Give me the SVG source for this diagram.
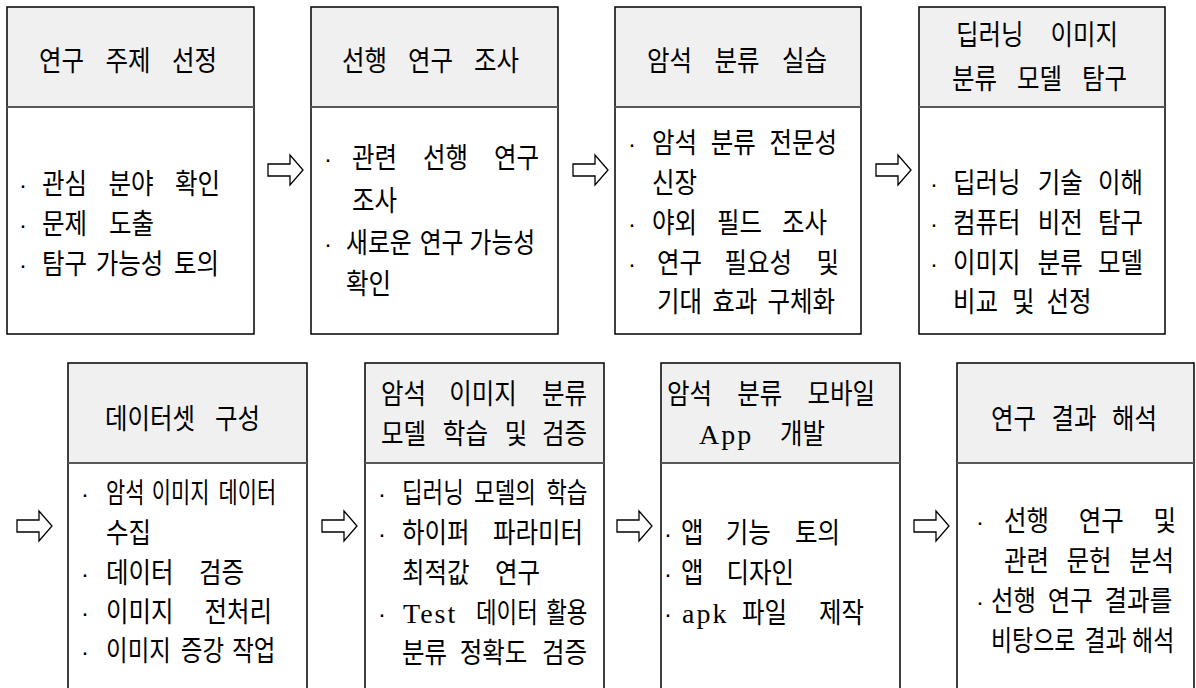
<svg xmlns="http://www.w3.org/2000/svg" width="1196" height="688" viewBox="0 0 1196 688">
<defs>
<style>
.bx{fill:none;stroke:#000;stroke-width:1.5}
.hd{fill:#f0f0f0;stroke:none}
.dv{stroke:#595959;stroke-width:2}
.t{font-family:"Noto Sans CJK KR","Noto Sans CJK SC",sans-serif;font-size:28px;fill:#000}
.l{font-family:"Liberation Serif",serif;font-size:28px;fill:#000;letter-spacing:2px}
.b{font-family:"Liberation Sans",sans-serif;font-size:24px;fill:#000;text-anchor:middle}
.ar{fill:#fff;stroke:#000;stroke-width:1.3;stroke-linejoin:miter}
</style>
<polygon id="arr" class="ar" points="0,-6 22,-6 22,-15 35,0 22,15 22,6 0,6"/>
</defs>
<rect width="1196" height="688" fill="#fff"/>

<g id="connectors">
<use href="#arr" transform="translate(268,170)"/>
<use href="#arr" transform="translate(573,170)"/>
<use href="#arr" transform="translate(876,170)"/>
<use href="#arr" transform="translate(17,526)"/>
<use href="#arr" transform="translate(322,526)"/>
<use href="#arr" transform="translate(617,526)"/>
<use href="#arr" transform="translate(914,526)"/>
</g>

<g id="n1">
<rect class="hd" x="7" y="7" width="247" height="100"/>
<rect class="bx" x="7" y="7" width="247" height="327"/>
<line class="dv" x1="7" y1="107" x2="254" y2="107"/>
<text class="t" transform="matrix(0.875,0,0,1,39,71)"><tspan x="0">연구</tspan><tspan x="76">주제</tspan><tspan x="152">선정</tspan></text>
<text class="b" x="23" y="193">·</text>
<text class="b" x="23" y="233">·</text>
<text class="b" x="23" y="273">·</text>
<text class="t" transform="matrix(0.875,0,0,1,42,194)"><tspan x="0">관심</tspan><tspan x="76">분야</tspan><tspan x="152">확인</tspan></text>
<text class="t" transform="matrix(0.875,0,0,1,42,234)"><tspan x="0">문제</tspan><tspan x="76.6">도출</tspan></text>
<text class="t" transform="matrix(0.875,0,0,1,42,274)"><tspan x="0">탐구</tspan><tspan x="61.4">가능성</tspan><tspan x="150.8">토의</tspan></text>
</g>

<g id="n2">
<rect class="hd" x="311" y="7" width="247" height="100"/>
<rect class="bx" x="311" y="7" width="247" height="327"/>
<line class="dv" x1="311" y1="107" x2="558" y2="107"/>
<text class="t" transform="matrix(0.875,0,0,1,342,71)"><tspan x="0">선행</tspan><tspan x="75.4">연구</tspan><tspan x="150.8">조사</tspan></text>
<text class="b" x="328" y="167">·</text>
<text class="b" x="328" y="252">·</text>
<text class="t" transform="matrix(0.875,0,0,1,352,168)"><tspan x="0">관련</tspan><tspan x="81.1">선행</tspan><tspan x="162.2">연구</tspan></text>
<text class="t" transform="matrix(0.875,0,0,1,352,211)">조사</text>
<text class="t" transform="matrix(0.85,0,0,1,346,253)"><tspan x="0">새로운</tspan><tspan x="86.7">연구</tspan><tspan x="145.4">가능성</tspan></text>
<text class="t" transform="matrix(0.875,0,0,1,346,294)">확인</text>
</g>

<g id="n3">
<rect class="hd" x="615" y="7" width="246" height="100"/>
<rect class="bx" x="615" y="7" width="246" height="327"/>
<line class="dv" x1="615" y1="107" x2="861" y2="107"/>
<text class="t" transform="matrix(0.875,0,0,1,647,71)"><tspan x="0">암석</tspan><tspan x="77.1">분류</tspan><tspan x="154.2">실습</tspan></text>
<text class="b" x="632" y="152">·</text>
<text class="b" x="632" y="232">·</text>
<text class="b" x="632" y="272">·</text>
<text class="t" transform="matrix(0.875,0,0,1,652,153)"><tspan x="0">암석</tspan><tspan x="67.1">분류</tspan><tspan x="134.2">전문성</tspan></text>
<text class="t" transform="matrix(0.875,0,0,1,652,193)">신장</text>
<text class="t" transform="matrix(0.875,0,0,1,652,233)"><tspan x="0">야외</tspan><tspan x="74.3">필드</tspan><tspan x="148.6">조사</tspan></text>
<text class="t" transform="matrix(0.875,0,0,1,657,273)"><tspan x="0">연구</tspan><tspan x="77.1">필요성</tspan><tspan x="182.2">및</tspan></text>
<text class="t" transform="matrix(0.875,0,0,1,657,312)"><tspan x="0">기대</tspan><tspan x="63.1">효과</tspan><tspan x="126.2">구체화</tspan></text>
</g>

<g id="n4">
<rect class="hd" x="919" y="7" width="246" height="100"/>
<rect class="bx" x="919" y="7" width="246" height="327"/>
<line class="dv" x1="919" y1="107" x2="1165" y2="107"/>
<text class="t" transform="matrix(0.875,0,0,1,956,45)"><tspan x="0">딥러닝</tspan><tspan x="108">이미지</tspan></text>
<text class="t" transform="matrix(0.875,0,0,1,952,89)"><tspan x="0">분류</tspan><tspan x="74.3">모델</tspan><tspan x="148.6">탐구</tspan></text>
<text class="b" x="934" y="192">·</text>
<text class="b" x="934" y="232">·</text>
<text class="b" x="934" y="272">·</text>
<text class="t" transform="matrix(0.875,0,0,1,953,193)"><tspan x="0">딥러닝</tspan><tspan x="96.9">기술</tspan><tspan x="165.8">이해</tspan></text>
<text class="t" transform="matrix(0.875,0,0,1,953,233)"><tspan x="0">컴퓨터</tspan><tspan x="96.9">비전</tspan><tspan x="165.8">탐구</tspan></text>
<text class="t" transform="matrix(0.875,0,0,1,953,273)"><tspan x="0">이미지</tspan><tspan x="96.9">분류</tspan><tspan x="165.8">모델</tspan></text>
<text class="t" transform="matrix(0.875,0,0,1,953,312)"><tspan x="0">비교</tspan><tspan x="67.4">및</tspan><tspan x="106.8">선정</tspan></text>
</g>

<g id="n5">
<rect class="hd" x="68" y="363" width="239" height="100"/>
<rect class="bx" x="68" y="363" width="239" height="340"/>
<line class="dv" x1="68" y1="463" x2="307" y2="463"/>
<text class="t" transform="matrix(0.875,0,0,1,105,429)"><tspan x="0">데이터셋</tspan><tspan x="125.7">구성</tspan></text>
<text class="b" x="85" y="502">·</text>
<text class="b" x="85" y="582">·</text>
<text class="b" x="85" y="621">·</text>
<text class="b" x="85" y="660">·</text>
<text class="t" transform="matrix(0.746,0,0,1,106,503)"><tspan x="0">암석</tspan><tspan x="61.4">이미지</tspan><tspan x="150.8">데이터</tspan></text>
<text class="t" transform="matrix(0.875,0,0,1,106,543)">수집</text>
<text class="t" transform="matrix(0.875,0,0,1,106,583)"><tspan x="0">데이터</tspan><tspan x="106.3">검증</tspan></text>
<text class="t" transform="matrix(0.875,0,0,1,106,622)"><tspan x="0">이미지</tspan><tspan x="112.6">전처리</tspan></text>
<text class="t" transform="matrix(0.84,0,0,1,106,661)"><tspan x="0">이미지</tspan><tspan x="89.1">증강</tspan><tspan x="150.2">작업</tspan></text>
</g>

<g id="n6">
<rect class="hd" x="365" y="363" width="239" height="100"/>
<rect class="bx" x="365" y="363" width="239" height="340"/>
<line class="dv" x1="365" y1="463" x2="604" y2="463"/>
<text class="t" transform="matrix(0.875,0,0,1,381,404)"><tspan x="0">암석</tspan><tspan x="78">이미지</tspan><tspan x="184">분류</tspan></text>
<text class="t" transform="matrix(0.875,0,0,1,381,444)"><tspan x="0">모델</tspan><tspan x="70.7">학습</tspan><tspan x="141.4">및</tspan><tspan x="184">검증</tspan></text>
<text class="b" x="382" y="502">·</text>
<text class="b" x="382" y="542">·</text>
<text class="b" x="382" y="622">·</text>
<text class="t" transform="matrix(0.8,0,0,1,402,503)"><tspan x="0">딥러닝</tspan><tspan x="90.1">모델의</tspan><tspan x="180.2">학습</tspan></text>
<text class="t" transform="matrix(0.875,0,0,1,402,543)"><tspan x="0">하이퍼</tspan><tspan x="104">파라미터</tspan></text>
<text class="t" transform="matrix(0.875,0,0,1,402,583)"><tspan x="0">최적값</tspan><tspan x="106.3">연구</tspan></text>
<text class="l" x="403" y="623">Test</text>
<text class="t" transform="matrix(0.8,0,0,1,476,623)"><tspan x="0">데이터</tspan><tspan x="87.8">활용</tspan></text>
<text class="t" transform="matrix(0.875,0,0,1,402,663)"><tspan x="0">분류</tspan><tspan x="66">정확도</tspan><tspan x="160">검증</tspan></text>
</g>

<g id="n7">
<rect class="hd" x="661" y="363" width="239" height="100"/>
<rect class="bx" x="661" y="363" width="239" height="340"/>
<line class="dv" x1="661" y1="463" x2="900" y2="463"/>
<text class="t" transform="matrix(0.875,0,0,1,667,404)"><tspan x="0">암석</tspan><tspan x="80.3">분류</tspan><tspan x="160.6">모바일</tspan></text>
<text class="l" x="699" y="444">App</text>
<text class="t" transform="matrix(0.875,0,0,1,780,444)">개발</text>
<text class="b" x="668" y="542">·</text>
<text class="b" x="668" y="582">·</text>
<text class="b" x="668" y="622">·</text>
<text class="t" transform="matrix(0.875,0,0,1,681,543)"><tspan x="0">앱</tspan><tspan x="51.1">기능</tspan><tspan x="130.2">토의</tspan></text>
<text class="t" transform="matrix(0.875,0,0,1,681,583)"><tspan x="0">앱</tspan><tspan x="52">디자인</tspan></text>
<text class="l" x="682" y="623">apk</text>
<text class="t" transform="matrix(0.875,0,0,1,742,623)"><tspan x="0">파일</tspan><tspan x="88">제작</tspan></text>
</g>

<g id="n8">
<rect class="hd" x="957" y="363" width="237" height="100"/>
<rect class="bx" x="957" y="363" width="237" height="340"/>
<line class="dv" x1="957" y1="463" x2="1194" y2="463"/>
<text class="t" transform="matrix(0.875,0,0,1,991,429)"><tspan x="0">연구</tspan><tspan x="69.1">결과</tspan><tspan x="138.2">해석</tspan></text>
<text class="b" x="980" y="530">·</text>
<text class="b" x="980" y="610">·</text>
<text class="t" transform="matrix(0.875,0,0,1,1004,531)"><tspan x="0">선행</tspan><tspan x="85.4">연구</tspan><tspan x="170.8">및</tspan></text>
<text class="t" transform="matrix(0.875,0,0,1,1004,571)"><tspan x="0">관련</tspan><tspan x="71.4">문헌</tspan><tspan x="142.8">분석</tspan></text>
<text class="t" transform="matrix(0.875,0,0,1,991,611)"><tspan x="0">선행</tspan><tspan x="64.9">연구</tspan><tspan x="129.8">결과를</tspan></text>
<text class="t" transform="matrix(0.82,0,0,1,991,651)"><tspan x="0">비탕으로</tspan><tspan x="114">결과</tspan><tspan x="172">해석</tspan></text>
</g>
</svg>
